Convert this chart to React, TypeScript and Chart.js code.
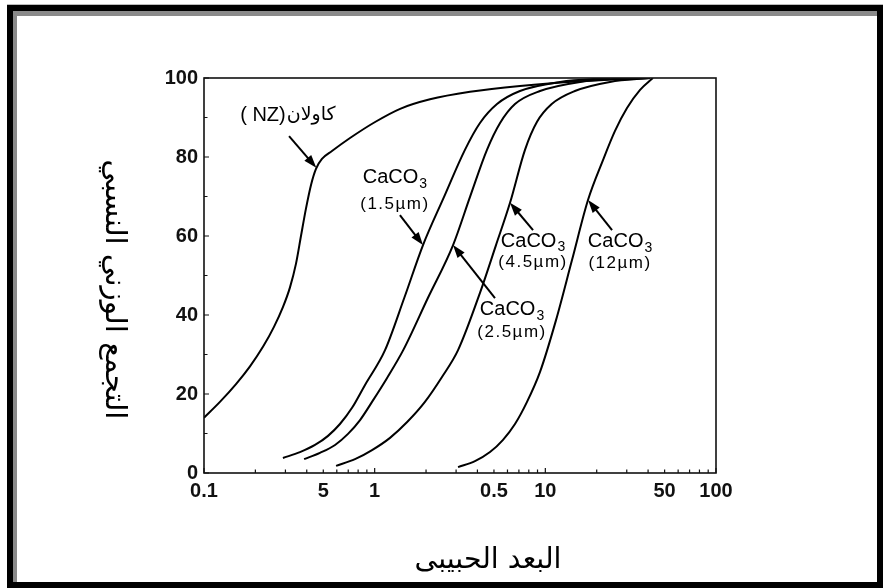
import React, { useEffect, useRef } from "react";
import { Chart, registerables } from "chart.js";

Chart.register(...registerables);

// ---- tick values / labels ----
const xTickValues = [0.1, 0.5, 1, 5, 10, 50, 100];
const xTickLabels = ["0.1", "5", "1", "0.5", "10", "50", "100"];
const yTickValues = [0, 20, 40, 60, 80, 100];

// ---- series (particle size µm, cumulative %) ----
const kaolinX = [0.1, 0.124, 0.154, 0.186, 0.222, 0.257, 0.29, 0.319, 0.346, 0.37, 0.396, 0.424, 0.453, 0.491, 0.562, 0.717, 1.0, 1.41, 2.11, 3.62, 7.1, 16, 41];
const kaolinY = [14, 18, 22.5, 27, 32, 37, 42, 47, 53, 60, 67, 73, 77, 79.5, 81.5, 84.8, 88.8, 92.2, 94.6, 96.5, 98, 99.2, 100];

const c15X = [0.29, 0.365, 0.447, 0.533, 0.626, 0.737, 0.878, 1.15, 1.49, 1.92, 2.55, 3.38, 4.14, 5.21, 7.1, 12.2, 23.9];
const c15Y = [3.8, 5.3, 7.1, 9.4, 12.4, 16.5, 22.3, 31.1, 44.3, 57.7, 69.9, 81.8, 88.6, 93.4, 96.7, 99, 100];

const c25X = [0.386, 0.478, 0.586, 0.698, 0.821, 0.965, 1.18, 1.47, 2.05, 2.88, 3.62, 4.55, 5.43, 6.64, 9.31, 16, 31.3];
const c25Y = [3.5, 5.1, 7.1, 9.9, 13.4, 18, 24, 31.1, 44.3, 57.7, 69.9, 81.8, 88.6, 93.4, 96.7, 99, 100];

const c45X = [0.594, 0.767, 0.965, 1.23, 1.55, 1.97, 2.48, 3.08, 4.14, 5.14, 6.21, 7.6, 8.94, 10.9, 14.9, 23.9, 41.1];
const c45Y = [1.8, 3.5, 5.8, 8.9, 12.9, 18, 24.3, 31.1, 45.6, 57.7, 68.4, 81.8, 88.9, 93.4, 96.7, 99, 100];

const c12X = [3.08, 3.87, 4.74, 5.65, 6.64, 7.81, 9.31, 11.55, 14.33, 17.78, 21.77, 25.6, 30.1, 35.9, 42.7];
const c12Y = [1.5, 3.0, 5.3, 8.4, 12.4, 18, 25.6, 38.7, 53.9, 69.1, 79.2, 86.6, 92.4, 97, 100];

// ---- texts ----
const yTitle = "التجمع الوزني النسبي";
const xTitle = "البعد الحبيبى";
const kaolinLatin = "( NZ)";
const kaolinArabic = "كاولان";

// annotation anchors in data units
const kaolinNote = { x: 0.31, y: 90.6, ax1: 0.315, ay1: 85.3, ax2: 0.455, ay2: 77.3 };
const caco3Notes = [
  { size: "(1.5µm)", x: 1.315, y1: 74.7, y2: 68.1, ax1: 1.406, ay1: 65.3, ax2: 1.919, ay2: 57.7 },
  { size: "(2.5µm)", x: 6.38, y1: 41.3, y2: 35.7, ax1: 5.07, ay1: 44.3, ax2: 2.877, ay2: 57.7 },
  { size: "(4.5µm)", x: 8.47, y1: 58.7, y2: 53.4, ax1: 8.47, ay1: 61.5, ax2: 6.21, ay2: 68.4 },
  { size: "(12µm)", x: 27.4, y1: 58.5, y2: 53.2, ax1: 24.6, ay1: 61.5, ax2: 17.8, ay2: 69.1 },
];

const W = 886;
const H = 588;
const AREA = { left: 204, right: 716, top: 78, bottom: 473 };

const sans = "'Liberation Sans', Arial, 'DejaVu Sans', sans-serif";
const arabic = "'DejaVu Sans', sans-serif";

function pts(xs: number[], ys: number[]) {
  return xs.map((x, i) => ({ x, y: ys[i] }));
}

function arrow(ctx: CanvasRenderingContext2D, x1: number, y1: number, x2: number, y2: number) {
  const ang = Math.atan2(y2 - y1, x2 - x1);
  const hl = 13;
  const hw = 4.5;
  ctx.save();
  ctx.strokeStyle = "#000";
  ctx.fillStyle = "#000";
  ctx.lineWidth = 2;
  ctx.beginPath();
  ctx.moveTo(x1, y1);
  ctx.lineTo(x2 - Math.cos(ang) * hl * 0.8, y2 - Math.sin(ang) * hl * 0.8);
  ctx.stroke();
  ctx.beginPath();
  ctx.moveTo(x2, y2);
  ctx.lineTo(x2 - Math.cos(ang) * hl - Math.sin(ang) * hw, y2 - Math.sin(ang) * hl + Math.cos(ang) * hw);
  ctx.lineTo(x2 - Math.cos(ang) * hl + Math.sin(ang) * hw, y2 - Math.sin(ang) * hl - Math.cos(ang) * hw);
  ctx.closePath();
  ctx.fill();
  ctx.restore();
}

const decorPlugin = {
  id: "decor",
  afterDraw(chart: any) {
    const ctx: CanvasRenderingContext2D = chart.ctx;
    const xs = chart.scales.x;
    const ys = chart.scales.y;
    const a = chart.chartArea;
    const px = (v: number) => xs.getPixelForValue(v);
    const py = (v: number) => ys.getPixelForValue(v);

    ctx.save();
    // plot frame
    ctx.strokeStyle = "#111";
    ctx.lineWidth = 1.6;
    ctx.strokeRect(a.left, a.top, a.right - a.left, a.bottom - a.top);

    // x ticks (inside)
    ctx.lineWidth = 1.2;
    ctx.beginPath();
    for (let d = 0.1; d < 100; d *= 10) {
      for (let m = 1; m <= 10; m++) {
        const v = d * m;
        const x = px(v);
        const len = m === 1 || m === 10 ? 5 : 3.5;
        ctx.moveTo(x, a.bottom);
        ctx.lineTo(x, a.bottom - len);
      }
    }
    // y ticks (inside)
    for (let v = 0; v <= 100; v += 10) {
      const y = py(v);
      ctx.moveTo(a.left, y);
      ctx.lineTo(a.left + (v % 20 === 0 ? 5 : 3.5), y);
    }
    ctx.stroke();

    ctx.fillStyle = "#000";
    // Kaolin label: Latin part on the left, Arabic word on the right
    ctx.font = `20px ${sans}`;
    ctx.textBaseline = "middle";
    ctx.textAlign = "left";
    const wl = ctx.measureText(kaolinLatin).width;
    ctx.font = `19px ${arabic}`;
    const wa = ctx.measureText(kaolinArabic).width;
    const kx = px(kaolinNote.x) - (wl + wa + 1) / 2;
    const ky = py(kaolinNote.y);
    ctx.font = `20px ${sans}`;
    ctx.fillText(kaolinLatin, kx, ky);
    ctx.font = `19px ${arabic}`;
    ctx.fillText(kaolinArabic, kx + wl + 1, ky);
    arrow(ctx, px(kaolinNote.ax1), py(kaolinNote.ay1), px(kaolinNote.ax2), py(kaolinNote.ay2));

    // CaCO3 labels
    for (const n of caco3Notes) {
      const cx = px(n.x);
      ctx.font = `20px ${sans}`;
      const wMain = ctx.measureText("CaCO").width;
      ctx.font = `14px ${sans}`;
      const wSub = ctx.measureText("3").width;
      const left = cx - (wMain + wSub + 1) / 2;
      ctx.textAlign = "left";
      ctx.textBaseline = "middle";
      ctx.font = `20px ${sans}`;
      ctx.fillText("CaCO", left, py(n.y1));
      ctx.font = `14px ${sans}`;
      ctx.fillText("3", left + wMain + 1, py(n.y1) + 6);
      ctx.font = `17px ${sans}`;
      (ctx as any).letterSpacing = "1.5px";
      ctx.textAlign = "center";
      ctx.fillText(n.size, cx, py(n.y2));
      (ctx as any).letterSpacing = "0px";
      arrow(ctx, px(n.ax1), py(n.ay1), px(n.ax2), py(n.ay2));
    }

    // axis titles
    ctx.textAlign = "center";
    ctx.textBaseline = "middle";
    ctx.font = `26px ${arabic}`;
    let w = ctx.measureText(xTitle).width;
    let fs = (26 * 147) / w;
    ctx.font = `${fs}px ${arabic}`;
    ctx.fillText(xTitle, (a.left + a.right) / 2 + 28, a.bottom + 88);

    ctx.font = `26px ${arabic}`;
    w = ctx.measureText(yTitle).width;
    fs = (26 * 260) / w;
    ctx.save();
    ctx.translate(a.left - 90, (a.top + a.bottom) / 2 + 14);
    ctx.rotate(Math.PI / 2);
    ctx.font = `${fs}px ${arabic}`;
    ctx.fillText(yTitle, 0, 0);
    ctx.restore();

    ctx.restore();
  },
};

export default function App() {
  const ref = useRef<HTMLCanvasElement | null>(null);

  useEffect(() => {
    if (!ref.current) return;
    const line = (xs: number[], ys: number[]) => ({
      data: pts(xs, ys),
      borderColor: "#000",
      borderWidth: 2,
      pointRadius: 0,
      fill: false,
      cubicInterpolationMode: "monotone" as const,
    });
    const tickFont = { family: sans, size: 20, weight: "bold" as const };
    const chart = new Chart(ref.current, {
      type: "line",
      data: {
        datasets: [
          line(kaolinX, kaolinY),
          line(c15X, c15Y),
          line(c25X, c25Y),
          line(c45X, c45Y),
          line(c12X, c12Y),
        ],
      },
      options: {
        animation: false,
        responsive: false,
        maintainAspectRatio: false,
        layout: { padding: { top: AREA.top, right: W - AREA.right, left: 0, bottom: 0 } },
        plugins: { legend: { display: false }, tooltip: { enabled: false } },
        scales: {
          x: {
            type: "logarithmic",
            min: 0.1,
            max: 100,
            border: { display: false },
            grid: { display: false, drawTicks: false },
            afterBuildTicks: (s: any) => {
              s.ticks = xTickValues.map((v) => ({ value: v }));
            },
            afterFit: (s: any) => {
              s.height = H - AREA.bottom;
            },
            ticks: {
              autoSkip: false,
              maxRotation: 0,
              minRotation: 0,
              padding: 6,
              color: "#111",
              font: tickFont,
              callback: (_v: any, i: number) => xTickLabels[i],
            },
          },
          y: {
            min: 0,
            max: 100,
            border: { display: false },
            grid: { display: false, drawTicks: false },
            afterBuildTicks: (s: any) => {
              s.ticks = yTickValues.map((v) => ({ value: v }));
            },
            afterFit: (s: any) => {
              s.width = AREA.left;
            },
            ticks: {
              padding: 6,
              color: "#111",
              font: tickFont,
              callback: (v: any) => String(v),
            },
          },
        },
      },
      plugins: [decorPlugin],
    });
    return () => chart.destroy();
  }, []);

  const box = (s: React.CSSProperties): React.CSSProperties => ({ position: "absolute", ...s });

  return (
    <div style={{ position: "fixed", left: 0, top: 0, width: W, height: H, background: "#fff", overflow: "hidden" }}>
      <canvas ref={ref} width={W} height={H} style={{ position: "absolute", left: 0, top: 0, width: W, height: H }} />
      <div style={box({ left: 7, top: 4, width: 876, height: 1, background: "#bbb" })} />
      <div style={box({ left: 7, top: 5, width: 876, height: 6, background: "#000" })} />
      <div style={box({ left: 13, top: 11, width: 864, height: 5, background: "#8a8a8a" })} />
      <div style={box({ left: 7, top: 5, width: 6, height: 583, background: "#000" })} />
      <div style={box({ left: 13, top: 11, width: 4, height: 571, background: "#8a8a8a" })} />
      <div style={box({ left: 7, top: 582, width: 876, height: 6, background: "#000" })} />
      <div style={box({ left: 877, top: 5, width: 6, height: 583, background: "#000" })} />
    </div>
  );
}
